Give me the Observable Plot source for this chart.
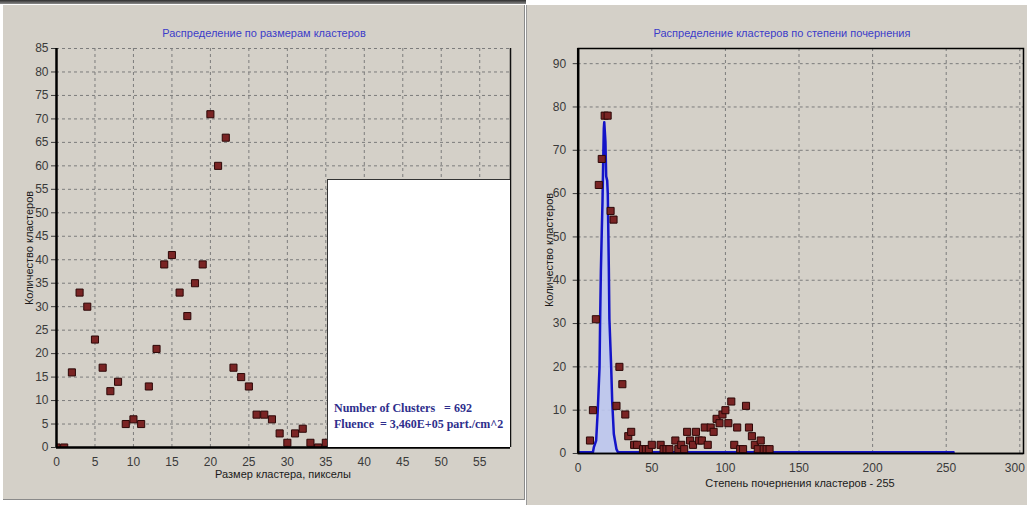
<!DOCTYPE html>
<html><head><meta charset="utf-8">
<script src="https://cdn.jsdelivr.net/npm/d3@7"></script>
<script src="https://cdn.jsdelivr.net/npm/@observablehq/plot@0.6"></script>
<style>
body{margin:0;background:#fff;width:1027px;height:505px;overflow:hidden;position:relative;font-family:"Liberation Sans",Arial,sans-serif;}
.abs{position:absolute;}
#topband{left:0;top:0;width:526px;height:4px;background:linear-gradient(#2e2e2e,#8a8a8a);}
#panelL{left:3px;top:5px;width:522px;height:495px;background:#d4d0c8;border-right:1px solid #8a8a8a;border-bottom:1px solid #8a8a8a;box-sizing:border-box;}
#panelR{left:526px;top:5px;width:501px;height:500px;background:#d4d0c8;border-left:1px solid #9a9a9a;box-sizing:border-box;}
.title{color:#3c3cc8;font-size:11px;white-space:nowrap;transform:translate(-50%,-50%);}
.axlab{color:#1a1a1a;font-size:11px;white-space:nowrap;transform:translate(-50%,-50%);}
.ylab{transform:translate(-50%,-50%) rotate(-90deg);}
#legend{left:327px;top:179px;width:183px;height:268px;background:#fff;border-left:1.5px solid #333;border-top:1.5px solid #333;box-sizing:border-box;}
#legend div{font-family:"Liberation Serif","Times New Roman",serif;font-weight:bold;color:#2e2e8c;font-size:12px;white-space:pre;position:absolute;left:6px;}
svg.chart{position:absolute;top:0;}
</style></head><body>
<div id="topband" class="abs"></div>
<div id="panelL" class="abs"></div>
<div id="panelR" class="abs"></div>
<div id="holder"></div>
<div class="abs title" style="left:264px;top:33px;">Распределение по размерам кластеров</div>
<div class="abs title" style="left:782px;top:33px;">Распределение кластеров по степени почернения</div>
<div class="abs axlab" style="left:283px;top:474px;">Размер кластера, пикселы</div>
<div class="abs axlab" style="left:800px;top:483px;">Степень почернения кластеров - 255</div>
<div class="abs axlab ylab" style="left:29px;top:248px;">Количество кластеров</div>
<div class="abs axlab ylab" style="left:549px;top:250px;">Количество кластеров</div>
<div id="legend" class="abs">
  <div style="top:221px;">Number of Clusters   = 692</div>
  <div style="top:237px;">Fluence  = 3,460E+05 part./cm^2</div>
</div>
<script>
// Left chart: cluster size distribution
const sizeX     = [0, 1, 2, 3, 4, 5, 6, 7, 8, 9, 10, 11, 12, 13, 14, 15, 16, 17, 18, 19, 20, 21, 22, 23, 24, 25, 26, 27, 28, 29, 30, 31, 32, 33, 34, 35];
const sizeCount = [0, 0, 16, 33, 30, 23, 17, 12, 14, 5, 6, 5, 13, 21, 39, 41, 33, 28, 35, 39, 71, 60, 66, 17, 15, 13, 7, 7, 6, 3, 1, 3, 4, 1, 0, 1];
const sizeTicks  = [0, 5, 10, 15, 20, 25, 30, 35, 40, 45, 50, 55];
const countTicksL = [0, 5, 10, 15, 20, 25, 30, 35, 40, 45, 50, 55, 60, 65, 70, 75, 80, 85];

// Right chart: darkness distribution
const darkX     = [8, 10, 12, 14, 16, 18, 20, 22, 24, 26, 28, 30, 32, 34, 36, 38, 40, 44, 46, 48, 50, 56, 58, 60, 62, 66, 68, 70, 72, 74, 76, 78, 80, 82, 84, 86, 88, 90, 92, 94, 96, 98, 100, 102, 104, 106, 108, 110, 112, 114, 116, 118, 120, 122, 124, 126, 128, 130];
const darkCount = [3, 10, 31, 62, 68, 78, 78, 56, 54, 11, 20, 16, 9, 4, 5, 2, 2, 1, 1, 1, 2, 2, 1, 1, 1, 3, 1, 2, 1, 5, 3, 2, 5, 3, 3, 6, 2, 6, 5, 8, 7, 9, 10, 7, 12, 2, 6, 1, 1, 11, 6, 4, 2, 1, 3, 1, 1, 1];
const fitX = [0, 10, 10.6, 12.2, 13.3, 14.5, 14.9, 15.4, 16.0, 16.5, 16.9, 17.4, 17.7, 18.5, 19.0, 19.7, 20.1, 20.8, 21.2, 22.4, 23.1, 24.2, 26.0, 27, 255];
const fitY = [0.3, 0.3, 1.4, 3, 10, 20, 31, 42, 51, 58, 66, 75, 76.5, 72, 64, 63, 60, 43, 31, 20, 12, 4.5, 1, 0.3, 0.3];
const darkTicks  = [0, 50, 100, 150, 200, 250, 300];
const countTicksR = [0, 10, 20, 30, 40, 50, 60, 70, 80, 90];

const sizeData = sizeX.map((x, i) => ({x, y: sizeCount[i]}));
const darkData = darkX.map((x, i) => ({x, y: darkCount[i]}));
const fitData  = fitX.map((x, i) => ({x, y: fitY[i]}));

const gridStyle = {stroke: "#7c7c7c", strokeOpacity: 1, strokeDasharray: "3,3", strokeWidth: 1};
const dotStyle = {x: "x", y: "y", symbol: "square", r: 4, fill: "#7a2424", stroke: "#2c0808", strokeWidth: 1, clip: true};
const svgStyle = {background: "transparent", overflow: "visible", fontFamily: "Liberation Sans, Arial, sans-serif", color: "#3a3a3a"};

const left = Plot.plot({
  width: 525, height: 500,
  marginLeft: 56, marginRight: 15, marginTop: 48, marginBottom: 53,
  x: {domain: [0, 59]},
  y: {domain: [0, 85]},
  style: svgStyle,
  marks: [
    Plot.gridX(sizeTicks.filter(d => d > 0), gridStyle),
    Plot.gridY(countTicksL.filter(d => d > 0), gridStyle),
    Plot.dot(sizeData, dotStyle),
    Plot.axisX(sizeTicks, {tickSize: 0, tickPadding: 10, label: null, fontSize: 12}),
    Plot.axisY(countTicksL, {tickSize: 5, tickPadding: 3, label: null, fontSize: 12}),
    Plot.ruleX([0], {stroke: "#000", strokeWidth: 2.5}),
    Plot.ruleY([0], {stroke: "#000", strokeWidth: 2.5}),
    Plot.ruleX([59], {stroke: "#111", strokeWidth: 1.5})
  ]
});
left.classList.add("chart");
left.style.left = "0px";

const lastTick = darkTicks[darkTicks.length - 1];
const right = Plot.plot({
  width: 501, height: 505,
  marginLeft: 51.7, marginRight: 4, marginTop: 48, marginBottom: 52,
  x: {domain: [0, 302.5]},
  y: {domain: [0, 93.5]},
  style: svgStyle,
  marks: [
    Plot.gridX(darkTicks.filter(d => d > 0), gridStyle),
    Plot.gridY(countTicksR.filter(d => d > 0), gridStyle),
    Plot.areaY(fitData, {x: "x", y: "y", fill: "#bcc6f0", fillOpacity: 0.9}),
    Plot.line(fitData, {x: "x", y: "y", stroke: "#1414c8", strokeWidth: 2.5}),
    Plot.dot(darkData, dotStyle),
    Plot.axisX(darkTicks.filter(d => d !== lastTick), {tickSize: 0, tickPadding: 10, label: null, fontSize: 12}),
    Plot.axisX([lastTick], {tickSize: 0, tickPadding: 10, label: null, fontSize: 12, dx: -5}),
    Plot.axisY(countTicksR, {tickSize: 5, tickPadding: 7, label: null, fontSize: 12}),
    Plot.frame({stroke: "#000", strokeWidth: 1.5}),
    Plot.ruleX([0], {stroke: "#000", strokeWidth: 2.5}),
    Plot.ruleY([0], {stroke: "#000", strokeWidth: 1.5})
  ]
});
right.classList.add("chart");
right.style.left = "526px";

const holder = document.getElementById("holder");
holder.appendChild(left);
holder.appendChild(right);
// keep the legend box above the left chart
document.body.appendChild(document.getElementById("legend"));
</script>
</body></html>
